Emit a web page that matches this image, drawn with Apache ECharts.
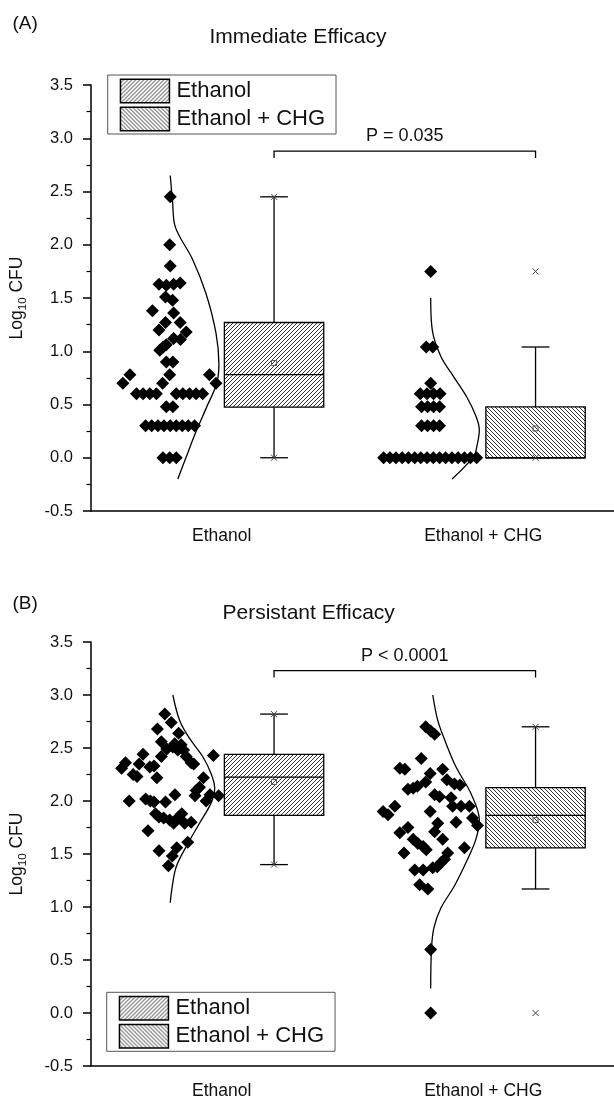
<!DOCTYPE html>
<html>
<head>
<meta charset="utf-8">
<script src="https://cdn.jsdelivr.net/npm/echarts@6.0.0/dist/echarts.min.js"></script>
<style>
  html, body { margin: 0; padding: 0; background: #fff; }
  #chart { width: 614px; height: 1100px; }
</style>
</head>
<body>
<div id="chart"></div>
<script>
// ---- data ----
var groups = ['Ethanol', 'Ethanol + CHG'];
var panelTitles = ['Immediate Efficacy', 'Persistant Efficacy'];
var panelTags = ['(A)', '(B)'];
var pValues = ['P = 0.035', 'P < 0.0001'];
var bracketY = [2.88, 3.23];

// dots: [jitter from group centre, log10 CFU]
var immEthanolDots = [
  [-0.197, 2.45], [-0.199, 2.00], [-0.197, 1.80],
  [-0.240, 1.63], [-0.212, 1.62], [-0.184, 1.63], [-0.159, 1.64],
  [-0.215, 1.51], [-0.188, 1.48],
  [-0.265, 1.38], [-0.184, 1.36],
  [-0.215, 1.27], [-0.159, 1.27],
  [-0.240, 1.20], [-0.136, 1.18],
  [-0.184, 1.12], [-0.158, 1.11],
  [-0.212, 1.06], [-0.224, 1.04], [-0.237, 1.01],
  [-0.212, 0.90], [-0.187, 0.90],
  [-0.351, 0.78], [-0.199, 0.78], [-0.047, 0.78],
  [-0.378, 0.70], [-0.226, 0.70], [-0.022, 0.70],
  [-0.326, 0.60], [-0.301, 0.60], [-0.275, 0.60], [-0.250, 0.60],
  [-0.174, 0.60], [-0.149, 0.60], [-0.123, 0.60], [-0.098, 0.60], [-0.073, 0.60],
  [-0.212, 0.48], [-0.187, 0.48],
  [-0.291, 0.30], [-0.268, 0.30], [-0.244, 0.30], [-0.221, 0.30], [-0.197, 0.30],
  [-0.174, 0.30], [-0.151, 0.30], [-0.128, 0.30], [-0.104, 0.30],
  [-0.225, 0.00], [-0.199, 0.00], [-0.174, 0.00]
];
var immChgDots = [
  [-0.201, 1.75],
  [-0.218, 1.04], [-0.193, 1.04],
  [-0.201, 0.70],
  [-0.241, 0.60], [-0.215, 0.60], [-0.190, 0.60], [-0.165, 0.60],
  [-0.236, 0.48], [-0.213, 0.48], [-0.190, 0.48], [-0.167, 0.48],
  [-0.236, 0.30], [-0.213, 0.30], [-0.190, 0.30], [-0.167, 0.30],
  [-0.381, 0], [-0.357, 0], [-0.334, 0], [-0.310, 0], [-0.286, 0], [-0.262, 0],
  [-0.239, 0], [-0.215, 0], [-0.191, 0], [-0.167, 0], [-0.144, 0], [-0.120, 0],
  [-0.096, 0], [-0.072, 0], [-0.049, 0], [-0.025, 0]
];
var perEthanolDots = [
  [-0.218, 2.82], [-0.193, 2.74], [-0.246, 2.68], [-0.165, 2.64],
  [-0.231, 2.56], [-0.180, 2.54], [-0.155, 2.53], [-0.187, 2.51],
  [-0.210, 2.49], [-0.168, 2.48], [-0.146, 2.48], [-0.301, 2.44],
  [-0.032, 2.43], [-0.231, 2.42], [-0.136, 2.42], [-0.117, 2.36],
  [-0.107, 2.35], [-0.368, 2.36], [-0.383, 2.31], [-0.316, 2.35],
  [-0.275, 2.32], [-0.259, 2.33], [-0.339, 2.25], [-0.324, 2.23],
  [-0.248, 2.22], [-0.070, 2.22], [-0.085, 2.13], [-0.098, 2.10],
  [-0.354, 2.00], [-0.291, 2.02], [-0.273, 2.00], [-0.259, 1.99],
  [-0.215, 1.99], [-0.179, 2.06], [-0.102, 2.05], [-0.060, 2.00],
  [-0.045, 2.06], [-0.012, 2.05],
  [-0.253, 1.88], [-0.240, 1.85], [-0.222, 1.84], [-0.199, 1.82],
  [-0.184, 1.79], [-0.165, 1.85], [-0.153, 1.88], [-0.142, 1.79],
  [-0.117, 1.80], [-0.282, 1.72], [-0.130, 1.61], [-0.172, 1.56],
  [-0.240, 1.53], [-0.189, 1.48], [-0.204, 1.39]
];
var perChgDots = [
  [-0.220, 2.70], [-0.201, 2.66], [-0.186, 2.63], [-0.237, 2.40],
  [-0.319, 2.31], [-0.300, 2.30], [-0.155, 2.30], [-0.203, 2.26],
  [-0.220, 2.18], [-0.139, 2.20], [-0.110, 2.16], [-0.089, 2.15],
  [-0.288, 2.11], [-0.268, 2.12], [-0.252, 2.14], [-0.186, 2.06],
  [-0.167, 2.04], [-0.123, 2.03], [-0.117, 1.95], [-0.085, 1.95],
  [-0.053, 1.95], [-0.338, 1.95], [-0.383, 1.90], [-0.364, 1.87],
  [-0.203, 1.90], [-0.104, 1.80], [-0.041, 1.84], [-0.022, 1.77],
  [-0.174, 1.79], [-0.288, 1.75], [-0.186, 1.71], [-0.319, 1.70],
  [-0.268, 1.64], [-0.250, 1.60], [-0.230, 1.57], [-0.218, 1.54],
  [-0.155, 1.64], [-0.072, 1.56], [-0.303, 1.51], [-0.136, 1.51],
  [-0.148, 1.45], [-0.161, 1.42], [-0.176, 1.38], [-0.193, 1.37],
  [-0.262, 1.35], [-0.230, 1.35], [-0.243, 1.21], [-0.212, 1.17],
  [-0.201, 0.60], [-0.201, 0.00]
];

// fitted distribution curves: [offset from group centre, log10 CFU]
var immEthanolCurve = [
  [-0.197, 2.65], [-0.188, 2.40], [-0.178, 2.17], [-0.111, 1.86], [-0.060, 1.54],
  [-0.022, 1.17], [-0.011, 0.88], [-0.019, 0.70], [-0.057, 0.48], [-0.101, 0.23],
  [-0.137, 0.00], [-0.168, -0.20]
];
var immChgCurve = [
  [-0.201, 1.50], [-0.195, 1.20], [-0.162, 0.95], [-0.113, 0.76], [-0.063, 0.57],
  [-0.027, 0.385], [-0.015, 0.26], [-0.025, 0.10], [-0.037, 0.01], [-0.119, -0.20]
];
var perEthanolCurve = [
  [-0.187, 3.00], [-0.161, 2.76], [-0.123, 2.59], [-0.073, 2.42], [-0.041, 2.26],
  [-0.027, 2.12], [-0.041, 1.98], [-0.085, 1.79], [-0.136, 1.57], [-0.174, 1.38],
  [-0.189, 1.20], [-0.197, 1.04]
];
var perChgCurve = [
  [-0.193, 3.00], [-0.174, 2.76], [-0.148, 2.58], [-0.104, 2.32], [-0.047, 2.07],
  [-0.015, 1.82], [-0.028, 1.64], [-0.060, 1.45], [-0.110, 1.20], [-0.162, 0.99],
  [-0.189, 0.80], [-0.198, 0.60], [-0.201, 0.23]
];

// box stats: [whisker low, Q1, median, Q3, whisker high, mean, min, max]
var immEthanolBox = [0, 0.475, 0.78, 1.27, 2.45, 0.89, 0, 2.45];
var immChgBox = [0, 0, 0, 0.477, 1.04, 0.275, 0, 1.75];
var perEthanolBox = [1.40, 1.864, 2.225, 2.44, 2.82, 2.18, 1.40, 2.82];
var perChgBox = [1.17, 1.557, 1.864, 2.127, 2.70, 1.82, 0, 2.70];

// ---- styling ----
var FONT = '"Liberation Sans", Arial, Helvetica, sans-serif';
var INK = '#111';
var BOX_SHIFT = 0.2;   // box sits right of the group centre
var BOX_HALF = 0.19;
var CAP_HALF = 0.053;
var gridTops = [85, 642];
var legendPos = [[107.7, 75], [106.7, 992.3]];
var titleLeft = [209.5, 222.5];
var titleTop = [26.5, 603];
var tagTop = [14.5, 594];

function hatch(rising) {
  var c = document.createElement('canvas');
  c.width = c.height = 4;
  var g = c.getContext('2d');
  g.fillStyle = '#fff';
  g.fillRect(0, 0, 4, 4);
  g.fillStyle = '#333';
  for (var i = 0; i < 4; i++) {
    g.fillRect(rising ? i : 3 - i, 3 - i, 1, 1);
  }
  return { image: c, repeat: 'repeat' };
}
var hatches = [hatch(true), hatch(false)];

var panels = [
  { dots: [immEthanolDots, immChgDots], curves: [immEthanolCurve, immChgCurve], boxes: [immEthanolBox, immChgBox] },
  { dots: [perEthanolDots, perChgDots], curves: [perEthanolCurve, perChgCurve], boxes: [perEthanolBox, perChgBox] }
];

function makeBoxRenderer(fill) {
  return function (params, api) {
    var cx = api.value(0);
    var v = [];
    for (var i = 1; i <= 8; i++) v.push(api.value(i));
    var wl = v[0], q1 = v[1], med = v[2], q3 = v[3], wh = v[4], mean = v[5], mn = v[6], mx = v[7];
    var tl = api.coord([cx - BOX_HALF, q3]);
    var br = api.coord([cx + BOX_HALF, q1]);
    var xc = api.coord([cx, 0])[0];
    var capL = api.coord([cx - CAP_HALF, 0])[0];
    var capR = api.coord([cx + CAP_HALF, 0])[0];
    function py(val) { return api.coord([cx, val])[1]; }
    function seg(x1, y1, x2, y2, stroke, w) {
      return { type: 'line', shape: { x1: x1, y1: y1, x2: x2, y2: y2 },
        style: { stroke: stroke || '#000', lineWidth: w || 1.3 } };
    }
    function cross(val) {
      var y = py(val), r = 3;
      return [seg(xc - r, y - r, xc + r, y + r, '#444', 1), seg(xc - r, y + r, xc + r, y - r, '#444', 1)];
    }
    var yTop = py(wh), yBot = py(wl), yMed = py(med), yMean = py(mean);
    return {
      type: 'group',
      children: [
        seg(xc, yTop, xc, tl[1]),
        seg(xc, br[1], xc, yBot),
        seg(capL, yTop, capR, yTop),
        seg(capL, yBot, capR, yBot),
        { type: 'rect', shape: { x: tl[0], y: tl[1], width: br[0] - tl[0], height: br[1] - tl[1] },
          style: { fill: fill, stroke: '#000', lineWidth: 1.3 } },
        seg(tl[0], yMed, br[0], yMed),
        { type: 'rect', shape: { x: xc - 2.5, y: yMean - 2.5, width: 5, height: 5 },
          style: { fill: 'none', stroke: '#555', lineWidth: 1 } }
      ].concat(cross(mn), cross(mx))
    };
  };
}

function makeBracketRenderer(text) {
  return function (params, api) {
    var a = api.coord([api.value(0), api.value(2)]);
    var b = api.coord([api.value(1), api.value(2)]);
    return {
      type: 'group',
      children: [
        { type: 'polyline', shape: { points: [[a[0], a[1] + 7], a, b, [b[0], b[1] + 7]] },
          style: { stroke: '#000', lineWidth: 1.3, fill: 'none' } },
        { type: 'text', x: (a[0] + b[0]) / 2, y: a[1] - 15,
          style: { text: text, fontSize: 18, fontFamily: FONT, fill: INK, align: 'center', verticalAlign: 'middle' } }
      ]
    };
  };
}

var option = {
  animation: false,
  backgroundColor: '#fff',
  textStyle: { fontFamily: FONT },
  title: [],
  legend: [],
  grid: [],
  xAxis: [],
  yAxis: [],
  series: []
};

panels.forEach(function (pn, p) {
  option.title.push({ text: panelTags[p], left: 12.5, top: tagTop[p], padding: 0,
    textStyle: { fontSize: 19, fontWeight: 'normal', color: INK, fontFamily: FONT } });
  option.title.push({ text: panelTitles[p], left: titleLeft[p], top: titleTop[p], padding: 0,
    textStyle: { fontSize: 21, fontWeight: 'normal', color: INK, fontFamily: FONT } });

  option.legend.push({
    left: legendPos[p][0], top: legendPos[p][1], orient: 'vertical',
    itemWidth: 49, itemHeight: 23.5, itemGap: 3, padding: [3.5, 11, 2.5, 12],
    borderColor: '#555', borderWidth: 1, icon: 'rect', selectedMode: false,
    textStyle: { fontSize: 22, color: INK, fontFamily: FONT, padding: [0, 0, 0, 2] },
    data: groups.map(function (g, gi) {
      return { name: g, itemStyle: { color: hatches[gi], borderColor: '#000', borderWidth: 1.5 } };
    })
  });

  option.grid.push({ left: 91, top: gridTops[p], width: 526, height: 426 });

  option.xAxis.push({
    type: 'category', gridIndex: p, data: groups, boundaryGap: true,
    axisLine: { onZero: false, lineStyle: { color: '#000', width: 1.5 } },
    axisTick: { alignWithLabel: true, length: 8, lineStyle: { color: '#000', width: 1.5 } },
    axisLabel: { fontSize: 17.5, color: INK, margin: 16, fontFamily: FONT },
    splitLine: { show: false }
  });
  option.xAxis.push({ type: 'value', gridIndex: p, min: 0.5, max: 2.5, show: false });

  option.yAxis.push({
    type: 'value', gridIndex: p, min: -0.5, max: 3.5, interval: 0.5,
    axisLine: { show: true, onZero: false, lineStyle: { color: '#000', width: 1.5 } },
    axisTick: { show: true, length: 8, lineStyle: { color: '#000', width: 1.5 } },
    minorTick: { show: true, splitNumber: 2, length: 4.5, lineStyle: { color: '#000', width: 1.2 } },
    splitLine: { show: false },
    axisLabel: { fontSize: 16.5, color: INK, margin: 18, fontFamily: FONT,
      formatter: function (val) { return val.toFixed(1); } },
    name: '{a|Log}{b|10}{a| CFU}', nameLocation: 'middle', nameGap: 62, nameRotate: 90,
    nameTextStyle: {
      color: INK,
      rich: {
        a: { fontSize: 17.5, fontFamily: FONT, color: INK, lineHeight: 24 },
        b: { fontSize: 11.5, fontFamily: FONT, color: INK, lineHeight: 24, verticalAlign: 'bottom' }
      }
    }
  });

  var xi = 2 * p + 1;
  groups.forEach(function (g, gi) {
    var cx = gi + 1;
    option.series.push({
      type: 'scatter', xAxisIndex: xi, yAxisIndex: p, silent: true,
      symbol: 'diamond', symbolSize: 13, itemStyle: { color: '#000', opacity: 1 },
      data: pn.dots[gi].map(function (d) { return [cx + d[0], d[1]]; })
    });
    option.series.push({
      type: 'line', xAxisIndex: xi, yAxisIndex: p, silent: true, smooth: 0.35,
      showSymbol: false, lineStyle: { color: '#000', width: 1.3 },
      data: pn.curves[gi].map(function (d) { return [cx + d[0], d[1]]; })
    });
    option.series.push({
      type: 'custom', name: g, xAxisIndex: xi, yAxisIndex: p, silent: true,
      itemStyle: { color: hatches[gi], borderColor: '#000', borderWidth: 1.5 },
      renderItem: makeBoxRenderer(hatches[gi]),
      data: [[cx + BOX_SHIFT].concat(pn.boxes[gi])]
    });
  });
  option.series.push({
    type: 'custom', xAxisIndex: xi, yAxisIndex: p, silent: true,
    renderItem: makeBracketRenderer(pValues[p]),
    data: [[1 + BOX_SHIFT, 2 + BOX_SHIFT, bracketY[p]]]
  });
});

var chart = echarts.init(document.getElementById('chart'), null, { renderer: 'canvas' });
chart.setOption(option);
</script>
</body>
</html>
